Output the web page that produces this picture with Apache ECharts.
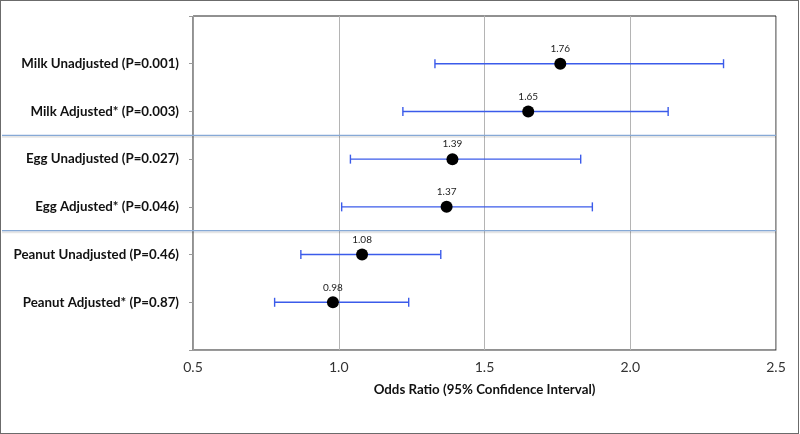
<!DOCTYPE html>
<html><head><meta charset="utf-8">
<script src="https://cdn.jsdelivr.net/npm/echarts@6/dist/echarts.min.js"></script>
<style>html,body{margin:0;padding:0;background:#fff}#c{position:absolute;left:0;top:0;width:797px;height:432px;border:1px solid #6b6b6b;}</style>
</head><body><div id="c"></div>
<script>
const categories = ['Milk Unadjusted (P=0.001)','Milk Adjusted* (P=0.003)','Egg Unadjusted (P=0.027)','Egg Adjusted* (P=0.046)','Peanut Unadjusted (P=0.46)','Peanut Adjusted* (P=0.87)'];
const oddsRatio = [1.76, 1.65, 1.39, 1.37, 1.08, 0.98];
const ciLower = [1.33, 1.22, 1.04, 1.01, 0.87, 0.78];
const ciUpper = [2.32, 2.13, 1.83, 1.87, 1.35, 1.24];
const xTicks = [0.5, 1.0, 1.5, 2.0, 2.5];
const separators = [2.5, 4.5];

const chart = echarts.init(document.getElementById('c'), null, {renderer:'canvas'});
const FONT = 'Lato';
const rows = categories.map((c,i)=>i+1);
chart.setOption({
  animation:false,
  grid:{left:192,right:22,top:15,bottom:83,show:true,borderColor:'#222',borderWidth:1,backgroundColor:'transparent'},
  xAxis:[{
    type:'value', min:xTicks[0], max:xTicks[xTicks.length-1], interval:0.5,
    axisLine:{show:true,onZero:false,lineStyle:{color:'#9a9a9a',width:1}},
    axisTick:{show:false},
    axisLabel:{formatter:v=>v.toFixed(1),color:'#333',fontFamily:FONT,fontSize:14,margin:10},
    splitLine:{show:true,lineStyle:{color:'#b4b4b4',width:1}},
    name:'Odds Ratio (95% Confidence Interval)', nameLocation:'middle', nameGap:33,
    nameTextStyle:{fontFamily:FONT,fontWeight:'bold',fontSize:13.3,color:'#111'}
  }],
  yAxis:[{
    type:'value', min:0, max:categories.length+1, interval:1, inverse:true,
    axisLine:{show:true,onZero:false,lineStyle:{color:'#9a9a9a'}},
    axisTick:{show:true,length:4,lineStyle:{color:'#9a9a9a'}},
    axisLabel:{formatter:v=>categories[v-1]||'',color:'#111',fontFamily:FONT,fontWeight:'bold',fontSize:13.3,margin:14},
    splitLine:{show:false}
  }],
  series:[
    {
      type:'custom', xAxisIndex:0, yAxisIndex:0, z:2,
      data:separators.map(s=>[xTicks[xTicks.length-1], s]),
      renderItem:function(params, api){
        const p = api.coord([api.value(0), api.value(1)]);
        return {type:'group',children:[
          {type:'line',shape:{x1:1,y1:p[1]+1.5,x2:p[0],y2:p[1]+1.5},style:{stroke:'rgba(0,0,0,0.10)',lineWidth:2}},
          {type:'line',shape:{x1:1,y1:p[1],x2:p[0],y2:p[1]},style:{stroke:'#86a9d6',lineWidth:1.2}}
        ]};
      }
    },
    {
      type:'custom', xAxisIndex:0, yAxisIndex:0, z:3,
      data:rows.map((r,i)=>[ciLower[i], ciUpper[i], r]),
      renderItem:function(params, api){
        const a = api.coord([api.value(0), api.value(2)]);
        const b = api.coord([api.value(1), api.value(2)]);
        const st = {stroke:'#3b5bea',lineWidth:1.4};
        const h = 4.5;
        return {type:'group',children:[
          {type:'line',shape:{x1:a[0],y1:a[1],x2:b[0],y2:b[1]},style:st},
          {type:'line',shape:{x1:a[0],y1:a[1]-h,x2:a[0],y2:a[1]+h},style:st},
          {type:'line',shape:{x1:b[0],y1:b[1]-h,x2:b[0],y2:b[1]+h},style:st}
        ]};
      }
    },
    {
      type:'scatter', xAxisIndex:0, yAxisIndex:0, z:4,
      data:rows.map((r,i)=>[oddsRatio[i], r]),
      symbol:'circle', symbolSize:12,
      itemStyle:{color:'#000',opacity:1},
      label:{show:true,position:'top',distance:4,formatter:p=>p.value[0].toFixed(2),color:'#222',fontFamily:FONT,fontSize:10}
    }
  ]
});
</script></body></html>
